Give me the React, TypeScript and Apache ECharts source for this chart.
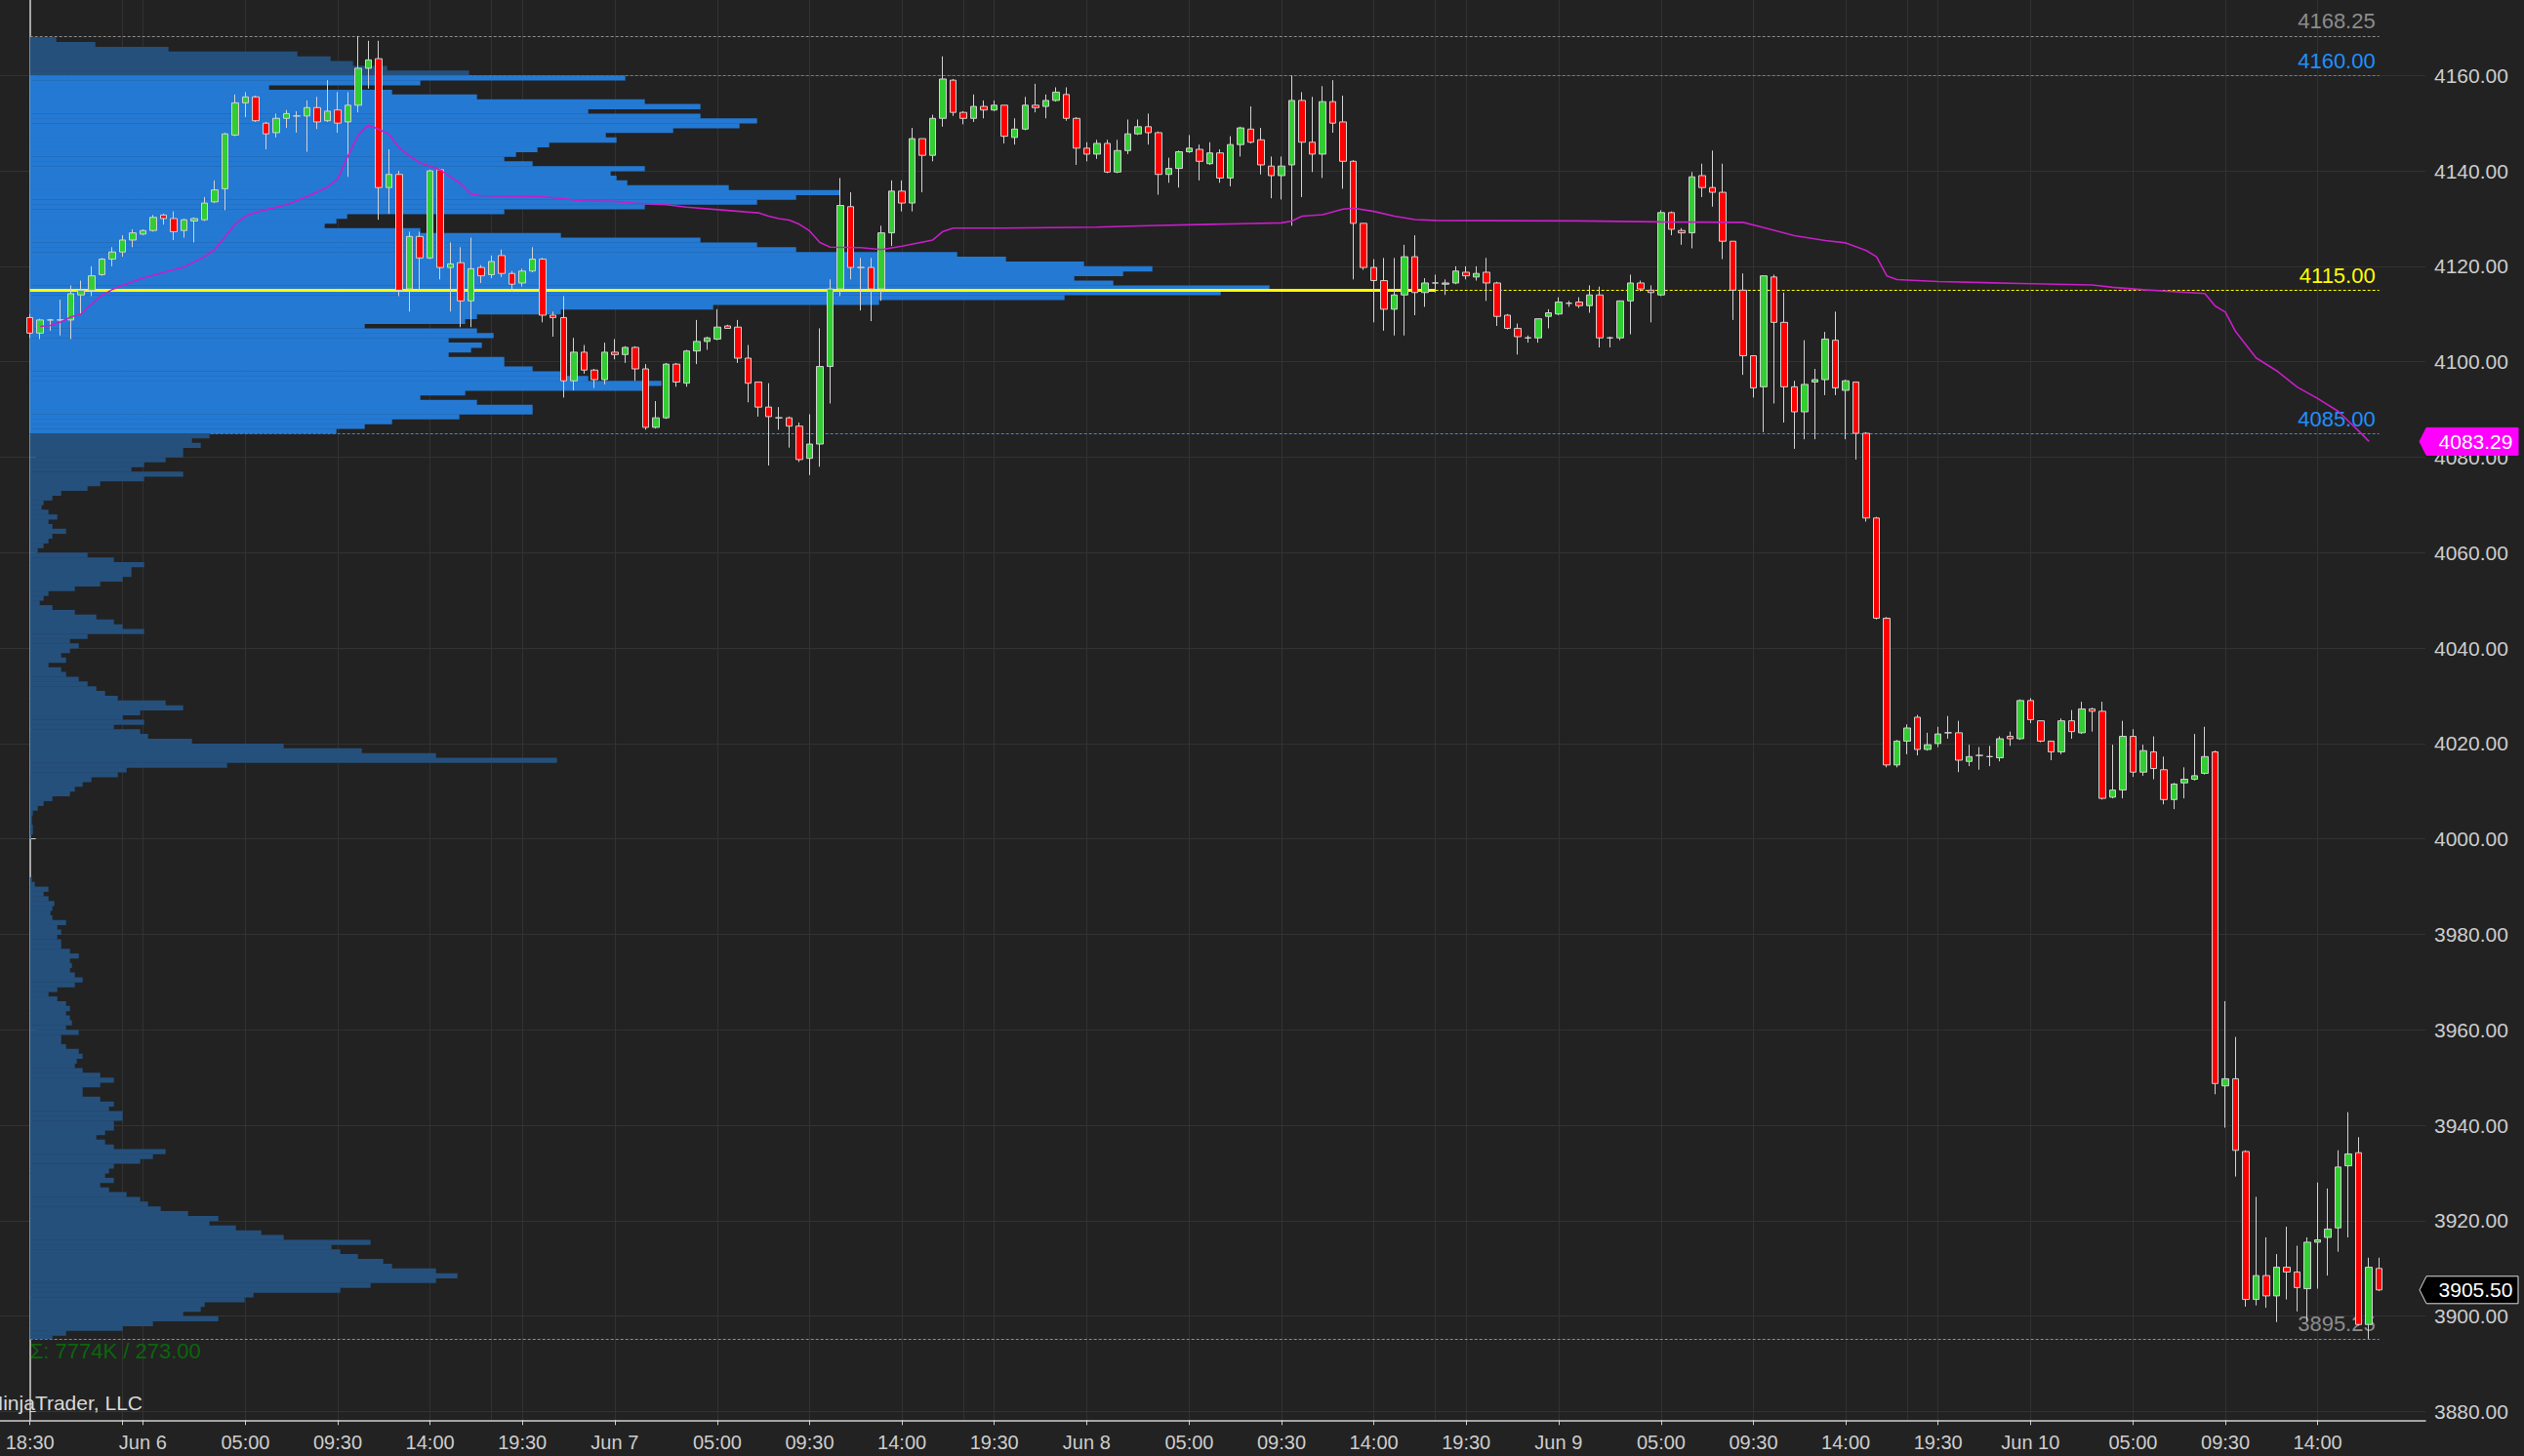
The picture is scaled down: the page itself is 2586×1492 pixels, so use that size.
import React, { useEffect, useRef } from 'react';
import * as echarts from 'echarts';

// ---------------- DATA ----------------
// 30-minute ES bars, Jun 5 18:30 -> Jun 10 17:00 (230 bars)
const opens = [
  4109.25,4106,4108.75,4108.75,4108.75,4114,4115,4118.25,4121.5,4123,
  4125.5,4126.75,4127.5,4130.75,4130,4127.5,4129.5,4129.75,4133.5,4136.25,
  4147.5,4154.25,4155.5,4150,4148,4151,4151.5,4151.5,4153.25,4150.5,
  4152.75,4150.25,4153.75,4161.5,4163.5,4136.5,4139.25,4115.25,4126.25,4121.75,
  4140.25,4119.75,4120.75,4112.75,4119.75,4118.25,4122.25,4118.5,4116.5,4119,
  4121.5,4109.75,4109.25,4096,4102,4098.25,4096.25,4102,4101.5,4103,
  4098.5,4086.25,4088.25,4099.5,4095.5,4102.25,4104.25,4104.75,4107.5,4107.25,
  4100.75,4095.75,4090.5,4088.25,4088.25,4086.5,4079.75,4082.75,4099,4115.25,
  4132.5,4119.75,4119.75,4115.25,4127,4135.75,4133.25,4146.75,4143.25,4151,
  4159,4152.25,4151,4153.5,4152.75,4153.75,4147,4148.75,4153.75,4153.5,
  4154.75,4156,4151,4144.75,4143.5,4145.75,4139.75,4144.25,4147.75,4149.25,
  4148,4139.25,4140.5,4144,4144.5,4141.5,4143.75,4138.5,4145.5,4148.75,
  4146.5,4141,4139,4141.25,4154.75,4146,4143.5,4154.5,4150.25,4142,
  4129,4119.75,4117,4111,4114,4122,4114.5,4116.5,4116.25,4116.5,
  4118.75,4117.75,4118.75,4116.5,4109.75,4107,4105,4105,4109.5,4110,
  4112.25,4112.5,4111.75,4114,4105,4105,4112.75,4116.5,4115,4114,
  4131.25,4127.5,4127,4139,4136.5,4135.5,4125.25,4115,4101.25,4094.75,
  4117.75,4108.25,4094.75,4089.5,4095.75,4096.25,4104.5,4094,4095.75,4085,
  4067.25,4046.25,4015.5,4020.5,4025.5,4018.75,4020,4022.25,4022.25,4016.25,
  4017.5,4017.25,4017,4021.5,4021,4029,4024.75,4020.5,4018.25,4024.75,
  4022.25,4027.25,4026.75,4008.75,4010.25,4021.5,4014,4018.25,4014.5,4008.25,
  4011.75,4012.5,4013.75,4018.25,3948.25,3949.75,3934.5,3903.5,3908.5,3904.25,
  3910.25,3909.25,3905.75,3915.5,3916.5,3918.5,3931.5,3934.25,3898.25,3910,
];
const closes = [
  4106,4108.75,4108.75,4108.75,4114.25,4115,4118,4121.5,4123,4125.5,
  4127,4127.5,4130.25,4130,4127.25,4129.75,4130,4133.25,4136,4147.75,
  4154.25,4155.5,4150.5,4147.75,4151,4152,4151.5,4153.25,4150.25,4152.5,
  4150,4153.75,4161.5,4163.25,4136.5,4139.25,4115,4126.25,4121.75,4140,
  4119.75,4120.5,4112.75,4119.5,4118,4121,4118.5,4116.25,4119,4121.5,
  4109.75,4109.25,4096,4102,4098.25,4096.25,4102,4101.5,4103,4098.5,
  4086.25,4088.25,4099.5,4095.75,4102.25,4104.25,4105,4107.25,4107,4100.75,
  4095.5,4090.5,4088.5,4088.25,4086.5,4079.5,4082.75,4099,4115.25,4132.75,
  4119.75,4119.75,4115.25,4127,4135.75,4133.25,4146.75,4143.25,4151,4159.25,
  4152.25,4151,4153.5,4152.75,4153.75,4147.25,4148.75,4153.75,4153.25,4154.75,
  4156.5,4151,4144.75,4143.5,4145.75,4139.75,4144.25,4147.75,4149.25,4148,
  4139.25,4140.5,4144,4144.75,4142,4143.75,4138.5,4145.5,4149,4146,
  4141.25,4139,4141,4154.75,4146,4143.5,4154.5,4150,4142,4129,
  4119.75,4117,4111,4114,4122,4114.5,4116.5,4116.5,4116.5,4119,
  4118,4118.5,4116.5,4109.5,4107,4105.25,4105,4109,4110.25,4112.5,
  4112.25,4111.75,4114,4105,4105,4112.75,4116.5,4115.25,4114.5,4131.25,
  4127.75,4127,4138.75,4136.5,4135.5,4125.25,4115,4101.25,4094.5,4118,
  4108.25,4094.75,4089.5,4095.25,4096.25,4104.75,4094.5,4096,4085,4067.25,
  4046.25,4015.5,4020.5,4023.25,4018.75,4019.75,4022,4022.25,4016.5,4017.25,
  4017.5,4017.25,4021,4021,4029,4025,4020.5,4018.25,4024.75,4022.5,
  4027.25,4026.75,4008.5,4010.25,4021.5,4014,4018.5,4014.75,4008.25,4011.5,
  4012.5,4013.25,4017.25,3948.75,3949.75,3934.75,3903.5,3908.5,3904.25,3910.25,
  3909.25,3906,3915.5,3916,3918.25,3931.25,3934,3898.25,3910.25,3905.5,
];
const lows = [
  4105,4104.75,4106.5,4105.5,4104.75,4110,4113.75,4118,4120,4122,
  4124,4126.5,4127.25,4128.75,4125.5,4126,4125,4129.5,4133.25,4131.75,
  4147.25,4151.25,4150.25,4144.5,4147,4149,4148,4144,4148.75,4150.25,
  4148,4138.75,4152.25,4157.25,4129.75,4131,4113.75,4110.5,4115,4121.5,
  4117.25,4110.5,4107.25,4107.25,4116.5,4117.5,4117.75,4114.75,4115.75,4118.75,
  4108.25,4105.25,4092.5,4094,4097.5,4094.5,4095.25,4100.5,4099.75,4096,
  4085.75,4086,4088,4094.75,4094.75,4099.5,4102.5,4104.5,4107,4099.75,
  4091.5,4088.5,4078.25,4085.75,4082,4079,4076.25,4078,4091.25,4113.75,
  4117.25,4110.75,4108.5,4112.75,4124.25,4131.5,4131.5,4135.5,4142,4149.25,
  4151.5,4149.75,4150.25,4151,4152.5,4145.75,4145.5,4148.5,4152.25,4151,
  4154.5,4150.5,4141.25,4142,4142.5,4139.5,4139.5,4143.5,4147.5,4145.5,
  4135,4137.5,4136.5,4143.75,4138,4141.25,4137.5,4136.75,4143,4145.75,
  4139.25,4134.25,4134,4128.5,4134.5,4139.75,4138.5,4148,4136.25,4117.25,
  4119.25,4108.25,4106.5,4105.5,4105.5,4109.75,4111.5,4114.5,4114,4116.25,
  4117.25,4117,4112.75,4107.5,4106.75,4101.5,4104,4104,4107,4109.75,
  4111.5,4111.25,4110.25,4103,4103,4104.5,4105.75,4114.75,4108.25,4113.75,
  4126.5,4124.5,4123.75,4134.5,4132.5,4121.5,4108.75,4097.25,4092.5,4085.25,
  4091.25,4087.25,4081.75,4083.75,4083.75,4093,4093,4083.75,4079.5,4066.5,
  4046,4015,4015,4017.75,4017.5,4018.5,4019.25,4021,4014,4015.25,
  4014.5,4015.25,4016.25,4019.5,4020.75,4024.25,4020.25,4016.5,4017.75,4021,
  4022,4022.5,4008.25,4008.5,4008.5,4013,4013.25,4012.5,4007.25,4006.25,
  4008.5,4012.25,4013.5,3946.5,3939.5,3929.25,3902,3902.25,3901.75,3898.75,
  3903.5,3901,3899,3905.75,3908.5,3913.5,3916.5,3898,3895.25,3905.25,
];
const highs = [
  4110,4109,4109,4113,4116,4117,4120,4121.75,4124,4126.5,
  4127.75,4127.75,4130.75,4131,4131.5,4130,4130.25,4134.5,4138,4148,
  4156,4156.5,4155.75,4150.25,4152,4152.75,4152.5,4154.75,4155.5,4159,
  4156.5,4156.5,4168.25,4167.25,4167.25,4144.5,4140,4127.25,4127.25,4140.25,
  4140.5,4125,4124,4126,4120.25,4122.25,4123.5,4119,4119.5,4124,
  4121.75,4110.5,4113.75,4105,4103.5,4098.5,4104,4104.75,4103.25,4103.25,
  4099.5,4091.75,4099.75,4099.75,4102.5,4108.75,4105.25,4111,4107.75,4108.75,
  4103.5,4095.75,4095.5,4090.5,4088.5,4087.25,4089,4107,4117.25,4138.5,
  4135.5,4121.75,4121.75,4128.5,4138,4138,4149,4146.75,4151.75,4164,
  4159.25,4152.5,4156,4154.75,4154.75,4153.75,4151,4155.5,4158.25,4156,
  4157.5,4157.5,4151.25,4146,4146.5,4146.5,4146.5,4150.75,4150.75,4152,
  4148.25,4142.75,4144.25,4147.5,4145.5,4146,4144.5,4147.25,4149.25,4153.5,
  4149,4143,4143,4160,4156.5,4155.5,4157.75,4159,4155.75,4142.25,
  4129,4121.5,4121.75,4121.75,4124.5,4126.5,4117.5,4118.25,4117.25,4120,
  4120,4120,4121.75,4116.75,4110,4108,4105.5,4109,4111,4113.5,
  4112.75,4113.5,4116,4115.75,4105.25,4112.75,4118.25,4117,4116,4131.75,
  4131.5,4128,4139.75,4141.5,4144.25,4141.5,4125.25,4118.5,4101.25,4118,
  4118.25,4114.5,4096,4104.5,4098.5,4106.25,4110.5,4096.25,4095.75,4085.25,
  4067.5,4046.5,4020.75,4024,4026,4022.25,4023.5,4025.75,4024.75,4019.75,
  4019.25,4019.5,4021.5,4022.5,4029.25,4029.5,4024.75,4020.5,4025.25,4027,
  4028.75,4027.5,4028.75,4019.75,4024.75,4023,4019.75,4021.5,4017.25,4011.75,
  4015,4022,4023.5,4018.5,3966,3958.5,3934.75,3925,3916.5,3913,
  3918.75,3914.75,3916.5,3928,3926.75,3934.75,3942.75,3937.5,3912.25,3912.25,
];

// VWAP (bar index, value)
const vwapBars = [1,2,3,4,5,6,7,8,9,11,13,15,17,18,19,20,21,22,25,27,29,30,31,32,33,34,35,36,37,38,39,40,41,42,43,44,46,50,54,57,59,62,64,68,71,72,73,74,75,76,77,78,81,83,85,88,89,90,95,104,109,115,122,123,124,126,128,129,131,133,135,137,151,159,167,169,172,175,177,179,180,181,182,186,194,201,203,206,212,213,214,215,217,219,221,223,225,227,228];
const vwapValues = [4107.4,4107.6,4108.3,4109.4,4110.0,4112.1,4113.9,4115.1,4116.0,4117.5,4118.7,4119.8,4122.0,4123.5,4126.1,4128.8,4130.5,4131.3,4132.9,4134.6,4136.6,4138.3,4143.1,4147.5,4149.6,4148.7,4147.7,4144.8,4143.1,4141.7,4141.0,4140.2,4138.7,4137.3,4135.1,4134.8,4134.7,4134.6,4133.7,4133.6,4133.2,4132.9,4132.4,4131.7,4131.2,4130.5,4130.0,4129.7,4128.8,4127.4,4125.0,4124.0,4123.9,4123.5,4124.2,4125.5,4127.3,4128.0,4128.0,4128.2,4128.5,4128.8,4129.1,4129.5,4130.5,4130.8,4132.0,4132.2,4131.5,4130.5,4129.8,4129.6,4129.5,4129.3,4129.2,4128.1,4126.4,4125.4,4124.9,4123.3,4122.0,4118.0,4117.2,4116.8,4116.4,4116.1,4115.6,4115.1,4114.3,4111.7,4110.4,4106.3,4100.8,4098.1,4094.7,4092.3,4089.6,4085.5,4083.29];

// Volume profile: 1-point bins, from 4167 (top) down to 3895 (bottom)
const profileTopBin = 4167;
const profileVol = [
  27,67,142,274,308,331,366,450,
  610,400,245,371,458,630,687,572,687,745,
  727,659,590,601,532,520,498,486,515,630,
  595,601,612,716,830,785,745,630,486,325,
  314,302,400,544,687,745,785,950,1000,1080,
  1150,1120,1070,1110,1270,1220,1060,870,700,544,
  458,446,343,458,475,429,463,452,429,486,
  486,515,544,572,647,630,446,400,458,515,
  515,440,371,343,314,
  184,166,175,157,157,139,117,104,157,117,
  72,59,32,23,14,12,19,28,19,23,
  37,23,19,14,8,59,86,117,104,104,
  95,72,46,19,14,10,23,46,68,86,
  95,117,59,41,50,41,32,37,19,32,
  37,50,59,68,77,90,139,157,113,95,
  117,86,113,121,166,260,340,416,540,202,
  99,90,63,54,46,41,23,14,8,3,
  2,2,3,3,1,0,0,0,0,0,
  0,0,0,2,5,19,14,19,25,23,
  21,23,37,28,32,28,32,32,41,50,
  41,43,41,46,54,46,28,19,28,37,
  41,37,41,43,37,50,32,32,37,50,
  54,48,46,54,72,86,72,54,54,72,
  86,81,95,95,86,86,77,68,77,86,
  139,126,113,86,81,77,86,72,81,99,
  113,121,134,162,193,184,211,237,260,349,
  309,318,336,362,371,416,438,416,349,318,
  229,220,179,175,157,193,126,95,37,23,
];

const sessionHigh = 4168.25;
const sessionLow = 3895.25;
const valueAreaHigh = 4160;
const valueAreaLow = 4085;
const pocPrice = 4115;
const pocSolidEndBar = 137;
const lastPrice = 3905.5;
const vwapLast = 4083.29;

const priceTicks = [3880,3900,3920,3940,3960,3980,4000,4020,4040,4060,4080,4100,4120,4140,4160];
const tickBars = [0,9,11,21,30,39,48,57,67,76,85,94,103,113,122,131,140,149,159,168,177,186,195,205,214,223];
const tickLabels = ['18:30','','Jun 6','05:00','09:30','14:00','19:30','Jun 7','05:00','09:30','14:00','19:30','Jun 8','05:00','09:30','14:00','19:30','Jun 9','05:00','09:30','14:00','19:30','Jun 10','05:00','09:30','14:00'];
const sessionEndBars = [45, 91, 137, 183];

// ---------------- LAYOUT / STYLE ----------------
const W = 2586, H = 1492;
const PAD_L = 3, PAD_R = 4;
const GRID_LEFT = -6.1, GRID_RIGHT = 101, GRID_TOP = 0, GRID_BOTTOM = 36.7;
const Y_MIN = 3878.2, Y_MAX = 4175.8;
const FONT = '"Liberation Sans", Arial, Helvetica, sans-serif';
const BG = '#222222';
const GRID_COLOR = '#323232';
const AXIS_COLOR = '#d0d0d0';
const TEXT_COLOR = '#cdcdcd';
const UP = '#32cd32', DOWN = '#ff0000', EDGE = '#d2d2d2';
const VA_COLOR = '#2479d3', OUT_COLOR = '#25507c';
const BLUE = '#1e90ff', GRAY = '#8c8c8c', YELLOW = '#ffff00';
const VWAP_COLOR = '#c81ec8';

const nBars = opens.length;
const nCats = PAD_L + nBars + PAD_R;
const categories = Array.from({ length: nCats }, (_, i) => 'c' + i);
const cat = (b: number) => 'c' + (b + PAD_L);
const band = (W - GRID_RIGHT - GRID_LEFT) / nCats;
const firstBarX = GRID_LEFT + (PAD_L + 0.5) * band;
const VOL_MIN = -(firstBarX - GRID_LEFT);
const VOL_MAX = (W - GRID_RIGHT) - firstBarX;

const tickCatSet = new Set(tickBars.map((b) => b + PAD_L));
const labelMap = new Map<number, string>();
tickBars.forEach((b, k) => { if (tickLabels[k]) labelMap.set(b + PAD_L, tickLabels[k]); });

function levelSeries(price: number, color: string, text: string, fromBar: number, toBar: number, z: number, width = 1, dashed = true) {
  return {
    type: 'line', data: [], z, silent: true,
    markLine: {
      z, silent: true, symbol: ['none', 'none'], animation: false,
      lineStyle: { color, width, type: dashed ? [3, 2] : 'solid' },
      label: text
        ? { show: true, position: 'insideEndTop', formatter: text, color, fontSize: 22, fontFamily: FONT, distance: 4 }
        : { show: false },
      data: [[{ coord: [cat(fromBar), price] }, { coord: [cat(toBar), price] }]],
    },
  };
}

function buildOption(): any {
  const candleData = opens.map((o, i) => [cat(i), o, closes[i], lows[i], highs[i]]);
  const profileData = profileVol.map((v, k) => [profileTopBin - k, v]);
  const vLines = [...tickBars, ...sessionEndBars].map((b) => ({ xAxis: cat(b) }));
  const hLines = priceTicks.map((p) => ({ yAxis: p }));
  const lastBar = nBars - 1;
  return {
    backgroundColor: BG,
    animation: false,
    grid: { left: GRID_LEFT, right: GRID_RIGHT, top: GRID_TOP, bottom: GRID_BOTTOM, containLabel: false, outerBoundsMode: 'none' },
    xAxis: [
      {
        type: 'category', data: categories, boundaryGap: true,
        axisLine: { show: true, lineStyle: { color: AXIS_COLOR, width: 1.5 } },
        axisTick: { show: true, alignWithLabel: true, length: 5, interval: (i: number) => tickCatSet.has(i), lineStyle: { color: AXIS_COLOR } },
        axisLabel: {
          show: true, interval: (i: number) => labelMap.has(i),
          formatter: (_v: string, i: number) => labelMap.get(i) ?? '',
          color: TEXT_COLOR, fontSize: 20, fontFamily: FONT, margin: 13,
        },
        splitLine: { show: false },
      },
      { type: 'value', gridIndex: 0, position: 'top', show: false, min: VOL_MIN, max: VOL_MAX, splitLine: { show: false } },
    ],
    yAxis: [
      {
        type: 'value', position: 'right', min: Y_MIN, max: Y_MAX,
        axisLine: { show: true, lineStyle: { color: AXIS_COLOR, width: 1.5 } },
        axisTick: { show: true, length: 6, customValues: priceTicks, lineStyle: { color: AXIS_COLOR } },
        axisLabel: { show: true, customValues: priceTicks, formatter: (v: number) => v.toFixed(2), color: TEXT_COLOR, fontSize: 21, fontFamily: FONT, margin: 9 },
        splitLine: { show: false },
      },
    ],
    series: [
      {
        type: 'line', data: [], z: 0, silent: true,
        markLine: {
          z: 0, silent: true, symbol: ['none', 'none'], animation: false, label: { show: false },
          lineStyle: { color: GRID_COLOR, width: 1, type: 'solid' },
          data: [...vLines, ...hLines],
        },
      },
      levelSeries(sessionHigh, GRAY, sessionHigh.toFixed(2), 0, lastBar, 1),
      levelSeries(valueAreaHigh, BLUE, valueAreaHigh.toFixed(2), 0, lastBar, 1),
      levelSeries(valueAreaLow, BLUE, valueAreaLow.toFixed(2), 0, lastBar, 1),
      levelSeries(sessionLow, GRAY, sessionLow.toFixed(2), 0, lastBar, 1),
      {
        type: 'custom', xAxisIndex: 1, yAxisIndex: 0, z: 2, silent: true, clip: false,
        data: profileData, encode: { x: 1, y: 0 },
        renderItem: (_params: any, api: any) => {
          const lo = api.value(0);
          const vol = api.value(1);
          const top = Math.min(lo + 1, sessionHigh);
          const bot = Math.max(lo, sessionLow);
          const p1 = api.coord([0, top]);
          const p2 = api.coord([vol, bot]);
          const inside = lo >= valueAreaLow && lo < valueAreaHigh;
          return {
            type: 'rect',
            shape: { x: p1[0], y: p1[1], width: Math.max(0, p2[0] - p1[0]), height: p2[1] - p1[1] + 0.4 },
            style: { fill: inside ? VA_COLOR : OUT_COLOR },
          };
        },
      },
      levelSeries(pocPrice, YELLOW, '', 0, pocSolidEndBar, 3, 3, false),
      levelSeries(pocPrice, YELLOW, pocPrice.toFixed(2), pocSolidEndBar, lastBar, 3),
      {
        type: 'candlestick', z: 4, barWidth: 7, data: candleData,
        encode: { x: 0, y: [1, 2, 3, 4] },
        itemStyle: { color: UP, color0: DOWN, borderColor: EDGE, borderColor0: EDGE, borderColorDoji: EDGE, borderWidth: 1 },
        silent: true,
      },
      {
        type: 'line', z: 5, silent: true, symbol: 'none',
        data: vwapBars.map((b, k) => [cat(b), vwapValues[k]]),
        lineStyle: { color: VWAP_COLOR, width: 1.6 },
      },
    ],
  };
}

export default function App() {
  const ref = useRef<HTMLDivElement>(null);
  useEffect(() => {
    document.body.style.margin = '0';
    const el = ref.current!;
    const chart = echarts.init(el, null, { renderer: 'svg', width: W, height: H });
    chart.setOption(buildOption());
    const axisX = W - GRID_RIGHT;
    const yV = chart.convertToPixel({ yAxisIndex: 0 }, vwapLast) as number;
    const yL = chart.convertToPixel({ yAxisIndex: 0 }, lastPrice) as number;
    const yLow = chart.convertToPixel({ yAxisIndex: 0 }, sessionLow) as number;
    const x0 = chart.convertToPixel({ xAxisIndex: 0 }, cat(0)) as number;
    const boxW = 95, boxH = 28;
    const marker = (y: number, fill: string, stroke: string, text: string) => [
      {
        type: 'polygon', z: 100,
        shape: { points: [[axisX - 6, y], [axisX + 1, y - boxH / 2], [axisX + boxW, y - boxH / 2], [axisX + boxW, y + boxH / 2], [axisX + 1, y + boxH / 2]] },
        style: { fill, stroke, lineWidth: 1 },
      },
      {
        type: 'text', z: 101, x: axisX + 4 + boxW / 2, y,
        style: { text, fill: '#ffffff', fontSize: 21, fontFamily: FONT, align: 'center', verticalAlign: 'middle', textAlign: 'center', textVerticalAlign: 'middle' },
      },
    ];
    chart.setOption({
      graphic: [
        ...marker(yV, '#ff00ff', '#ff00ff', vwapLast.toFixed(2)),
        ...marker(yL, '#000000', '#e0e0e0', lastPrice.toFixed(2)),
        {
          type: 'text', z: 50, x: x0, y: yLow + 13,
          style: { text: 'Σ: 7774K / 273.00', fill: '#0b650b', fontSize: 22, fontFamily: FONT, align: 'left', verticalAlign: 'middle', textAlign: 'left', textVerticalAlign: 'middle' },
        },
        {
          type: 'text', z: 50, x: 146, y: 1437,
          style: { text: '© NinjaTrader, LLC', fill: '#d8d8d8', fontSize: 21, fontFamily: FONT, align: 'right', verticalAlign: 'middle', textAlign: 'right', textVerticalAlign: 'middle' },
        },
      ],
    });
    return () => chart.dispose();
  }, []);
  return <div ref={ref} style={{ position: 'absolute', left: 0, top: 0, width: W, height: H, background: BG }} />;
}
